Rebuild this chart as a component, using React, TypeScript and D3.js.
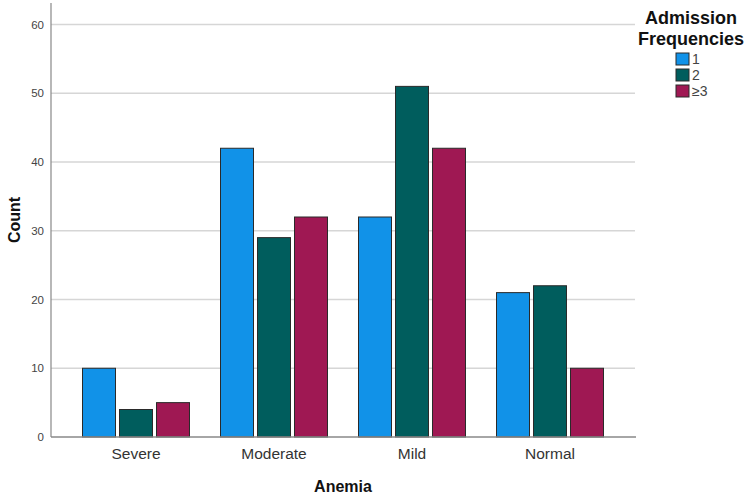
import React from "react";
import * as d3 from "d3";

const categories = ["Severe", "Moderate", "Mild", "Normal"];
const seriesNames = ["1", "2", "≥3"];
const series1 = [10, 42, 32, 21];
const series2 = [4, 29, 51, 22];
const series3 = [5, 32, 42, 10];
const yTicks = [0, 10, 20, 30, 40, 50, 60];
const colors = ["#1192e8", "#005d5d", "#9f1853"];

export default function App() {
  const W = 750, H = 495;
  const axisX = 51, axisRight = 636, y0 = 437, yTop = 3;
  const y = d3.scaleLinear().domain([0, 60]).range([y0, 24.5]);
  const x = d3.scalePoint<string>().domain(categories).range([136, 550]);
  const inner = d3.scaleBand<string>().domain(seriesNames).range([-53.5, 53.5]).paddingInner(0.108);
  const values = [series1, series2, series3];
  const font = "Arial, 'Liberation Sans', sans-serif";

  return (
    <svg width={W} height={H} style={{ position: "absolute", left: 0, top: 0 }} fontFamily={font}>
      <rect width={W} height={H} fill="#fff" />
      {yTicks.filter(t => t > 0).map(t => (
        <line key={t} x1={axisX} x2={635} y1={y(t)} y2={y(t)} stroke="#d6d6d6" strokeWidth={1.5} />
      ))}
      {yTicks.map(t => (
        <text key={t} x={44} y={y(t)} dy="0.35em" textAnchor="end" fontSize={11.5} fill="#444">{t}</text>
      ))}
      {categories.map((c, ci) =>
        seriesNames.map((s, si) => {
          const v = values[si][ci];
          const bx = (x(c) as number) + (inner(s) as number);
          return (
            <rect key={c + s} x={bx} y={y(v)} width={inner.bandwidth()} height={y0 - y(v)}
              fill={colors[si]} stroke="#2a2a2a" strokeWidth={1} />
          );
        })
      )}
      <line x1={axisX} x2={axisX} y1={yTop} y2={y0} stroke="#888" strokeWidth={1.2} />
      <line x1={axisX} x2={axisRight} y1={y0} y2={y0} stroke="#888" strokeWidth={1.5} />
      {categories.map(c => (
        <text key={c} x={x(c)} y={459} textAnchor="middle" fontSize={15.5} fill="#333">{c}</text>
      ))}
      <text x={343} y={492} textAnchor="middle" fontSize={16} fontWeight="bold" fill="#111">Anemia</text>
      <text transform={`translate(20,220) rotate(-90)`} textAnchor="middle" fontSize={16} fontWeight="bold" fill="#111">Count</text>
      <text x={691} y={24} textAnchor="middle" fontSize={18} fontWeight="bold" fill="#111">Admission</text>
      <text x={691} y={45} textAnchor="middle" fontSize={18} fontWeight="bold" fill="#111">Frequencies</text>
      {seriesNames.map((s, i) => (
        <g key={s} transform={`translate(676,${53 + i * 16})`}>
          <rect x={0} y={0} width={13} height={12} fill={colors[i]} stroke="#2a2a2a" strokeWidth={1} />
          <text x={16} y={6} dy="0.37em" fontSize={14} fill="#444">{s}</text>
        </g>
      ))}
    </svg>
  );
}
